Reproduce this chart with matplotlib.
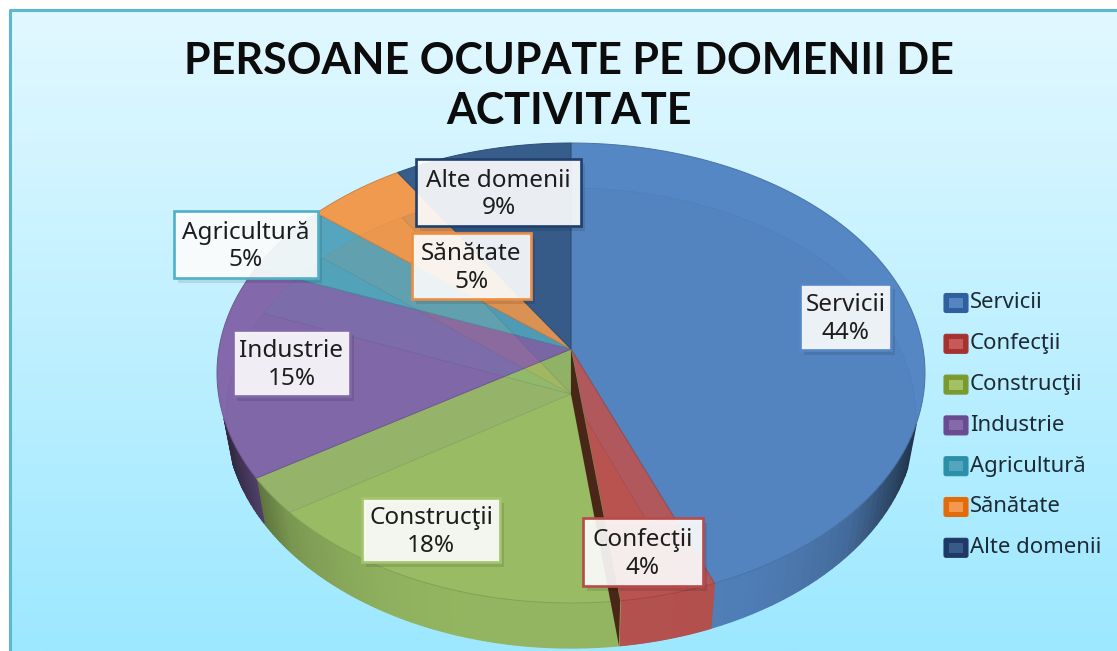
import numpy as np
import matplotlib
matplotlib.use('Agg')
import matplotlib.pyplot as plt
from matplotlib.patches import Polygon, Rectangle, FancyBboxPatch

#%% data
title = 'PERSOANE OCUPATE PE DOMENII DE\nACTIVITATE'
categories = ['Servicii', 'Confecţii', 'Construcţii', 'Industrie', 'Agricultură', 'Sănătate', 'Alte domenii']
shares = [44, 4, 18, 15, 5, 5, 9]

#%% style
face_colors = ['#5587c4', '#bd5552', '#9bbf66', '#8369ab', '#54a5bd', '#f09a50', '#375d8b']
border_colors = ['#5587c4', '#b94a48', '#a5c46e', '#8369ab', '#4fb0c8', '#ee8d42', '#1f3f6e']
legend_dark = ['#2f5f9e', '#a5322f', '#7a9a2f', '#6a4a90', '#2b8fa8', '#e36c0a', '#1f3864']
legend_light = ['#5585c0', '#c75a58', '#a3c064', '#8469ab', '#52a4bf', '#f2984f', '#375a88']
# label boxes, picture pixels: left, right, top, bottom
boxes = [(800, 891, 284, 350), (583, 703, 518, 586), (362, 500, 498, 562), (233, 350, 330, 396),
         (174, 318, 211, 278), (412, 531, 233, 299), (416, 581, 159, 226)]
label_font = 'Noto Sans'

# ellipse of the top face and of the bottom face, plus the vanishing shift of the centre
cx, cy, rx, ry = 571, 373, 354, 230
cy_low, rx_low = 418, 345
e = 0.104


def project(theta, r=1.0):
    # clockwise from the top, circle seen in perspective
    x = r * np.sin(theta)
    y = r * np.cos(theta)
    d = 1 + e * y
    return x * np.sqrt(1 - e * e) / d, (y + e) / d


def top_pt(theta, r=1.0):
    x, y = project(theta, r)
    return np.column_stack([cx + rx * x, cy - ry * y])


def low_pt(theta, r=1.0):
    x, y = project(theta, r)
    return np.column_stack([cx + rx_low * x, cy_low - ry * y])


def mix(col, f):
    return tuple(np.array(matplotlib.colors.to_rgb(col)) * f)


fig = plt.figure(figsize=(11.17, 6.51), dpi=100)
ax = fig.add_axes([0, 0, 1, 1])
ax.set_xlim(0, 1117)
ax.set_ylim(651, 0)
ax.axis('off')

# background
top_col = np.array(matplotlib.colors.to_rgb('#e2f8ff'))
bot_col = np.array(matplotlib.colors.to_rgb('#9de8ff'))
grad = np.linspace(0, 1, 256)[:, None, None] * (bot_col - top_col) + top_col
ax.imshow(grad, extent=(10, 1117, 651, 10), aspect='auto', zorder=0)
ax.set_xlim(0, 1117)
ax.set_ylim(651, 0)
ax.plot([10, 10, 1117], [651, 10, 10], color='#5db7d0', lw=2.2, zorder=1)

ax.text(569, 86, title, ha='center', va='center', fontsize=31, fontweight='bold', family='Lato',
        color='#0c0c0c', linespacing=1.3, zorder=2)

edges = np.cumsum([0] + shares) / sum(shares) * 2 * np.pi

# outer wall
for i, col in enumerate(face_colors):
    t = np.linspace(edges[i], edges[i + 1], 90)
    for a, b in zip(t[:-1], t[1:]):
        xa, ya = project(a)
        if ya > -0.2:
            continue
        shade = 0.95 - 0.4 * abs(xa) ** 4
        if abs(xa) > 0.8:
            shade -= 1.1 * (abs(xa) - 0.8)
        aa, bb = np.array([a]), np.array([b])
        pts = np.vstack([top_pt(aa), top_pt(bb), low_pt(bb), low_pt(aa)])
        c = mix(col, shade)
        ax.add_patch(Polygon(pts, closed=True, fc=c, ec=c, lw=0.9, zorder=4))

# top face
for i, col in enumerate(face_colors):
    t = np.linspace(edges[i], edges[i + 1], 120)
    pts = np.vstack([top_pt(np.array([0.0]), 0.0), top_pt(t)])
    ax.add_patch(Polygon(pts, closed=True, fc=col, ec=mix(col, 0.85), lw=0.7, zorder=5))

# bottom of the pie, seen through the top
tt = np.linspace(0, 2 * np.pi, 300)
clip = Polygon(top_pt(tt), closed=True, transform=ax.transData)
for i, col in enumerate(face_colors):
    t = np.linspace(edges[i], edges[i + 1], 80)
    pts = np.vstack([low_pt(np.array([0.0]), 0.0), low_pt(t)])
    p = Polygon(pts, closed=True, fc=mix(col, 0.85), ec=mix(col, 0.6), lw=0.5, alpha=0.11, zorder=5.5)
    ax.add_patch(p)
    p.set_clip_path(clip)

# wall of the slice next to Confecţii
w = np.array([edges[2]])
wall = np.vstack([top_pt(w, 0.0), top_pt(w), low_pt(w), low_pt(w, 0.0)])
ax.add_patch(Polygon(wall, closed=True, fc='#4a2618', ec='none', zorder=6))

# labels
for i, name in enumerate(categories):
    x0, x1, y0, y1 = boxes[i]
    ax.add_patch(Rectangle((x0 + 4, y0 + 5), x1 - x0, y1 - y0, fc='black', alpha=0.1, ec='none', zorder=7))
    ax.add_patch(Rectangle((x0, y0), x1 - x0, y1 - y0, fc='white', alpha=0.9, ec='none', zorder=8))
    ax.add_patch(Rectangle((x0, y0), x1 - x0, y1 - y0, fc='none', ec=border_colors[i], lw=1.9, zorder=8))
    ax.text((x0 + x1) / 2, (y0 + y1) / 2 + 2, '%s\n%d%%' % (name, shares[i]), ha='center', va='center',
            fontsize=17.5, family=label_font, color='#1d1d1d', linespacing=1.2, zorder=9)

# legend
for i, name in enumerate(categories):
    yc = 303 + i * 40.8
    ax.add_patch(FancyBboxPatch((944, yc - 9.5), 24, 19, boxstyle='round,pad=0,rounding_size=2',
                                fc=legend_dark[i], ec=legend_dark[i], lw=0.8, zorder=3))
    ax.add_patch(Rectangle((949, yc - 5), 14, 10, fc=legend_light[i], ec='none', zorder=4))
    ax.text(970, yc, name, ha='left', va='center', fontsize=15.9, family=label_font, color='#1d2a33', zorder=4)

fig.savefig('out.png', dpi=100)
